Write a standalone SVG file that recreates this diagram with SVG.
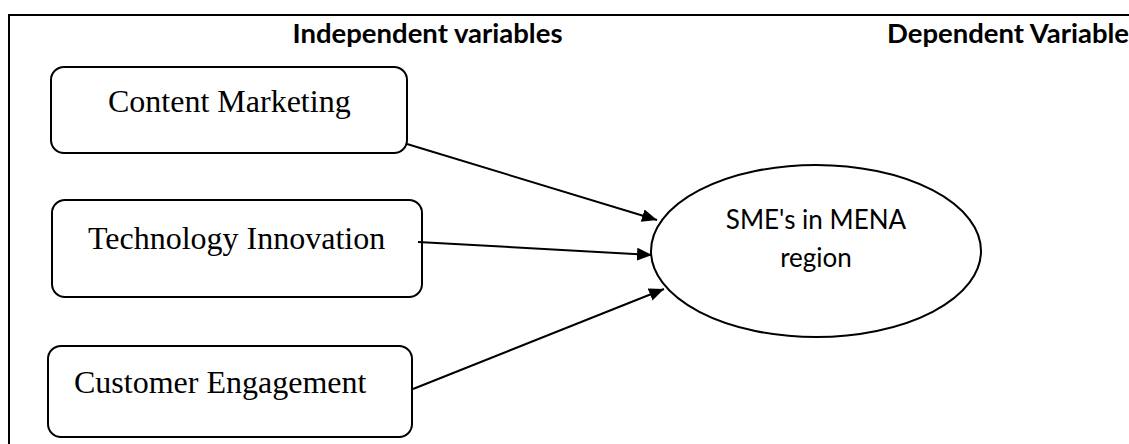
<svg xmlns="http://www.w3.org/2000/svg" width="1129" height="444" viewBox="0 0 1129 444">
  <style>
    .box { fill: #fff; stroke: #000; stroke-width: 2; }
    .lbl { font-family: "Liberation Serif", "Times New Roman", serif; font-size: 32px; fill: #000; }
    .title { font-family: Lato, "Liberation Sans", sans-serif; font-weight: bold; font-size: 27.5px; fill: #000; }
    .ell { font-family: Lato, "Liberation Sans", sans-serif; font-size: 26px; fill: #000; text-anchor: middle; }
    .edge { stroke: #000; stroke-width: 2; fill: none; marker-end: url(#arrow); }
  </style>
  <defs>
    <marker id="arrow" markerUnits="userSpaceOnUse" markerWidth="16" markerHeight="14" refX="15" refY="6.5" orient="auto">
      <path d="M0,0 L15,6.5 L0,13 z" fill="#000"/>
    </marker>
  </defs>
  <rect width="1129" height="444" fill="#fff"/>
  <path d="M9,444 V15 H1129" fill="none" stroke="#000" stroke-width="2"/>
  <text class="title" x="427.5" y="43" text-anchor="middle">Independent variables</text>
  <text class="title" x="887" y="43">Dependent Variable</text>

  <g id="content-marketing">
    <rect class="box" x="51" y="67" width="356" height="86" rx="13"/>
    <text class="lbl" x="108" y="112">Content Marketing</text>
  </g>
  <g id="technology-innovation">
    <rect class="box" x="52" y="200" width="370" height="97" rx="13"/>
    <text class="lbl" x="88" y="249">Technology Innovation</text>
  </g>
  <g id="customer-engagement">
    <rect class="box" x="48" y="346" width="364" height="91" rx="13"/>
    <text class="lbl" x="74" y="393">Customer Engagement</text>
  </g>
  <g id="sme-mena">
    <ellipse cx="816" cy="251" rx="165" ry="86" fill="#fff" stroke="#000" stroke-width="2"/>
    <text class="ell" x="816" y="229">SME's in MENA</text>
    <text class="ell" x="816" y="267">region</text>
  </g>

  <g id="connectors">
    <line class="edge" x1="407" y1="144" x2="657" y2="220"/>
    <line class="edge" x1="418" y1="242" x2="652" y2="255"/>
    <line class="edge" x1="413" y1="389" x2="664" y2="289"/>
  </g>
</svg>
